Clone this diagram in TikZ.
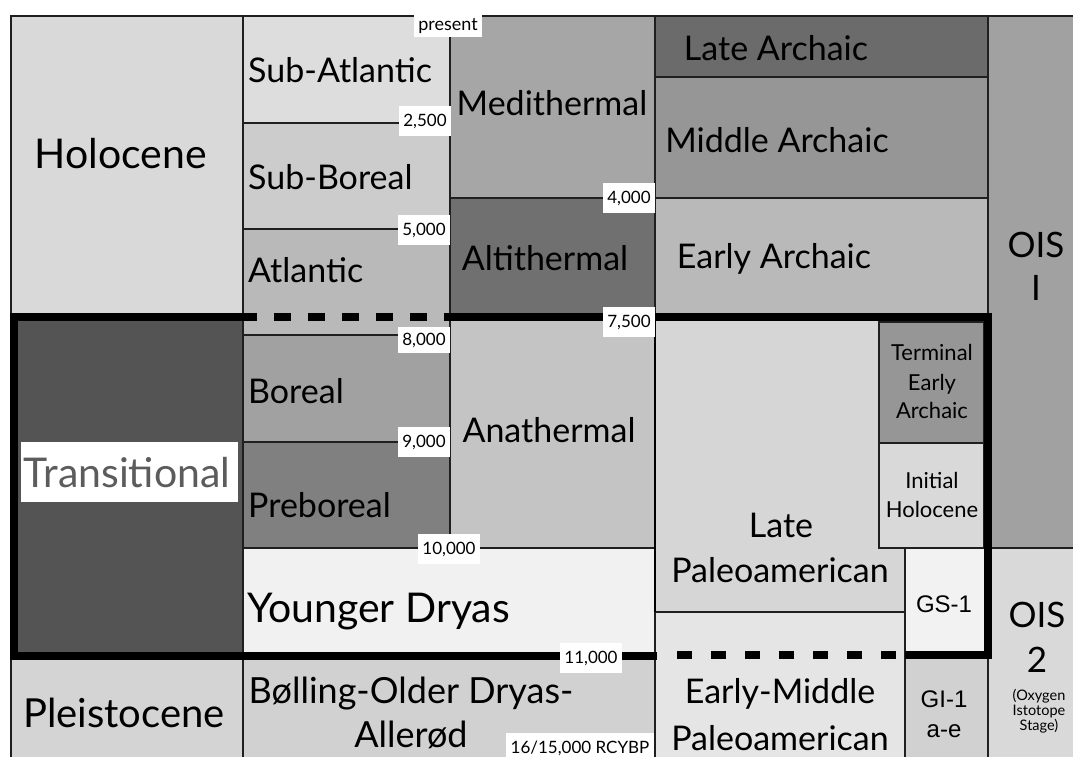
\documentclass[tikz,border=0pt]{standalone}
\usepackage{fontspec}
\setmainfont{Lato}
\newfontfamily\arialfont{Liberation Sans}
\usetikzlibrary{fit}
\definecolor{cHolo}{gray}{0.85}
\definecolor{cSubAtl}{gray}{0.865}
\definecolor{cSubBor}{gray}{0.80}
\definecolor{cAtl}{gray}{0.725}
\definecolor{cMedi}{gray}{0.65}
\definecolor{cAlti}{gray}{0.44}
\definecolor{cLateA}{gray}{0.42}
\definecolor{cMidA}{gray}{0.59}
\definecolor{cEarlyA}{gray}{0.725}
\definecolor{cOISa}{gray}{0.63}
\definecolor{cTrans}{gray}{0.33}
\definecolor{cTransTxt}{gray}{0.36}
\definecolor{cBoreal}{gray}{0.63}
\definecolor{cPreb}{gray}{0.50}
\definecolor{cAnat}{gray}{0.77}
\definecolor{cYD}{gray}{0.945}
\definecolor{cLateP}{gray}{0.84}
\definecolor{cTerm}{gray}{0.59}
\definecolor{cInit}{gray}{0.85}
\definecolor{cGS}{gray}{0.95}
\definecolor{cOISb}{gray}{0.85}
\definecolor{cPleist}{gray}{0.83}
\definecolor{cBoll}{gray}{0.82}
\definecolor{cEMP}{gray}{0.90}
\definecolor{cGI}{gray}{0.82}
\tikzset{
  cell/.style={draw=black!88, line width=1.3pt, inner sep=0pt, outer sep=0pt},
  bordline/.style={line width=8pt, draw=black},
  tBig/.style={font=\fontsize{41}{45}\selectfont, inner sep=0pt},
  tMid/.style={font=\fontsize{34}{40}\selectfont, inner sep=0pt},
  tSml/.style={font=\fontsize{22}{26}\selectfont, inner sep=0pt},
  tAri/.style={font=\arialfont\fontsize{24}{28}\selectfont, inner sep=0pt},
  tTiny/.style={font=\fontsize{14.5}{16}\selectfont, inner sep=0pt},
  numlab/.style={fill=white, inner xsep=4pt, inner ysep=0pt, minimum height=30pt,
    font=\fontsize{17}{19}\selectfont},
}
\newcommand\cellbox[6]{\node[cell, fill=#6, fit={(#2,#3) (#4,#5)}] (#1) {};}
\begin{document}
\begin{tikzpicture}[x=1pt,y=-1pt]
\useasboundingbox (0,0) rectangle (1073,756);
\clip (0,0) rectangle (1073,756);
\fill[white] (0,0) rectangle (1073,756);
% boxes
\cellbox{holo}{11}{16}{243}{317}{cHolo}
\cellbox{subatl}{243}{16}{450}{123}{cSubAtl}
\cellbox{subbor}{243}{123}{450}{229}{cSubBor}
\cellbox{atl}{243}{229}{450}{335}{cAtl}
\cellbox{medi}{450}{16}{655}{198}{cMedi}
\cellbox{alti}{450}{198}{655}{317}{cAlti}
\cellbox{latearch}{655}{16}{988}{77}{cLateA}
\cellbox{midarch}{655}{77}{988}{198}{cMidA}
\cellbox{earlyarch}{655}{198}{988}{317}{cEarlyA}
\cellbox{oisa}{988}{16}{1085}{548}{cOISa}
\cellbox{trans}{11}{317}{243}{656}{cTrans}
\cellbox{boreal}{243}{335}{450}{442}{cBoreal}
\cellbox{preb}{243}{442}{450}{548}{cPreb}
\cellbox{anat}{450}{317}{655}{548}{cAnat}
\cellbox{ydryas}{243}{548}{655}{656}{cYD}
\cellbox{latepaleo}{655}{317}{905}{612}{cLateP}
\cellbox{term}{879}{322}{984}{443}{cTerm}
\cellbox{init}{879}{443}{984}{548}{cInit}
\cellbox{gsone}{905}{548}{988}{656}{cGS}
\cellbox{oisb}{988}{548}{1085}{770}{cOISb}
\cellbox{pleist}{11}{656}{243}{770}{cPleist}
\cellbox{bolling}{243}{656}{655}{770}{cBoll}
\cellbox{emp}{655}{612}{905}{770}{cEMP}
\cellbox{gione}{905}{656}{988}{770}{cGI}
\draw[line width=2.5pt] (latepaleo.north west) -- (latepaleo.south west);
% thick boundary of the transitional band
\draw[bordline] (243,317) -- (14,317) -- (14,656) -- (657,656);
\draw[bordline, dash pattern=on 17pt off 17pt] (240,317) -- (461,317);
\draw[bordline] (451,317) -- (988,317) -- (988,655) -- (905,655);
\draw[bordline, dash pattern=on 15pt off 19pt] (677,655) -- (897,655);
% date labels
\node[numlab, minimum height=22pt, font=\fontsize{18}{20}\selectfont] (present) at (448,26) {present};
\node[numlab] (d2500) at (425,121) {2,500};
\node[numlab] (d5000) at (424,230) {5,000};
\node[numlab, minimum height=26pt] (d8000) at (424,340) {8,000};
\node[numlab] (d9000) at (424,442) {9,000};
\node[numlab] (d10000) at (449,549) {10,000};
\node[numlab] (d4000) at (629,198) {4,000};
\node[numlab] (d7500) at (629,322) {7,500};
\node[numlab] (d11000) at (591,658) {11,000};
\node[fill=white, inner sep=0pt, minimum width=148pt, minimum height=30pt, anchor=north west] (rcybpbox) at (506,733) {};
\node[inner sep=0pt, anchor=base, font=\fontsize{17}{19}\selectfont] (rcybp) at (580,753) {16/15,000 RCYBP};
% texts
\node[tBig, anchor=base] (tHolo) at (121,168) {Holocene};
\node[tMid, anchor=base west] (tSubAtl) at (248,82) {Sub-Atlantic};
\node[tMid, anchor=base west] (tSubBor) at (248,189) {Sub-Boreal};
\node[tMid, anchor=base west] (tAtl) at (248,282) {Atlantic};
\node[tMid, anchor=base] (tMedi) at (552,115) {Medithermal};
\node[tMid, anchor=base] (tAlti) at (545,270) {Altithermal};
\node[tMid, anchor=base] (tLateA) at (776,60) {Late Archaic};
\node[tMid, anchor=base] (tMidA) at (777,152) {Middle Archaic};
\node[tMid, anchor=base] (tEarlyA) at (774,268) {Early Archaic};
\node[tMid, font=\fontsize{35}{40}\selectfont, anchor=base] (tOISa1) at (1036,257) {OIS};
\node[tMid, font=\fontsize{35}{40}\selectfont, anchor=base] (tOISa2) at (1036,300) {I};
\node[fill=white, inner sep=0pt, minimum width=217pt, minimum height=60pt] (transbox) at (129.5,472) {};
\node[tBig, anchor=base, text=cTransTxt] (tTrans) at (127,487) {Transitional};
\node[tMid, anchor=base west] (tBoreal) at (248,403) {Boreal};
\node[tMid, anchor=base west] (tPreb) at (248,517) {Preboreal};
\node[tMid, anchor=base] (tAnat) at (549,442) {Anathermal};
\node[tBig, anchor=base west] (tYD) at (247,622) {Younger Dryas};
\node[tBig, font=\fontsize{40}{45}\selectfont, anchor=base] (tPleist) at (124,727) {Pleistocene};
\node[tMid, font=\fontsize{36}{40}\selectfont, anchor=base] (tBoll1) at (411,703) {Bølling-Older Dryas-};
\node[tMid, font=\fontsize{36}{40}\selectfont, anchor=base] (tBoll2) at (411,747) {Allerød};
\node[tMid, anchor=base] (tLateP1) at (781,537) {Late};
\node[tMid, anchor=base] (tLateP2) at (780,582) {Paleoamerican};
\node[tMid, anchor=base] (tEMP1) at (780,703) {Early-Middle};
\node[tMid, anchor=base] (tEMP2) at (780,750) {Paleoamerican};
\node[tSml, anchor=base] (tTerm1) at (932,360) {Terminal};
\node[tSml, anchor=base] (tTerm2) at (932,390) {Early};
\node[tSml, anchor=base] (tTerm3) at (932,418) {Archaic};
\node[tSml, anchor=base] (tInit1) at (932,488) {Initial};
\node[tSml, anchor=base] (tInit2) at (932,517) {Holocene};
\node[tAri, anchor=base] (tGS) at (944,612) {GS-1};
\node[tAri, anchor=base] (tGI1) at (944,707) {GI-1};
\node[tAri, anchor=base] (tGI2) at (944,737) {a-e};
\node[tMid, font=\fontsize{35}{40}\selectfont, anchor=base] (tOISb1) at (1037,627) {OIS};
\node[tMid, font=\fontsize{35}{40}\selectfont, anchor=base] (tOISb2) at (1037,672) {2};
\node[tTiny, anchor=base] (tOISb3) at (1039,700) {(Oxygen};
\node[tTiny, anchor=base] (tOISb4) at (1039,715) {Istotope};
\node[tTiny, anchor=base] (tOISb5) at (1039,730) {Stage)};
\end{tikzpicture}
\end{document}
